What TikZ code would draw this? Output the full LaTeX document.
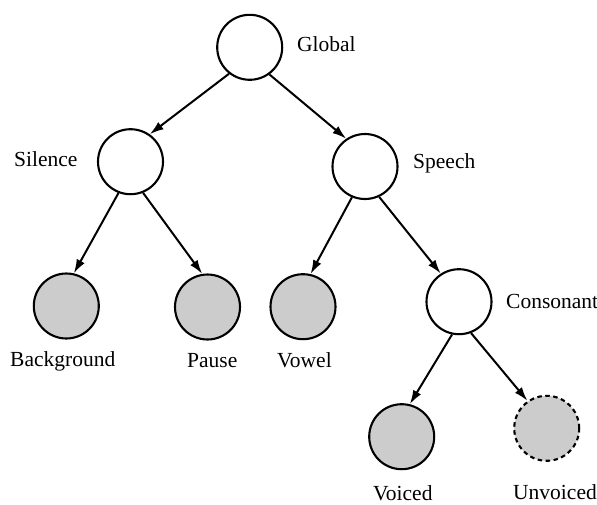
\documentclass[tikz,border=0pt]{standalone}
\usepackage{fontspec}
\setmainfont{Liberation Serif}
\usetikzlibrary{arrows.meta}
\begin{document}
\begin{tikzpicture}[x=1pt,y=-1pt,
  st/.style={circle,draw,line width=2.1pt,minimum size=65pt,inner sep=0pt,fill=white},
  leaf/.style={st,fill=black!20},
  lbl/.style={anchor=base west,inner sep=0pt,font=\fontsize{21.5}{24}\selectfont},
  edge/.style={line width=2pt,-{Latex[length=14pt,width=9pt]}}]
\useasboundingbox (0,0) rectangle (597,504);
\node[st] (glob) at (249.7,47.3) {};
\node[st] (sil) at (130.5,161.7) {};
\node[st] (spe) at (365,166.5) {};
\node[leaf] (bg) at (66.3,306) {};
\node[leaf] (pau) at (207.5,307) {};
\node[leaf] (vow) at (303,306.7) {};
\node[st] (con) at (459,301.7) {};
\node[leaf] (voi) at (401.7,436.7) {};
\node[leaf,dash pattern=on 4.5pt off 3.5pt] (unv) at (546.7,428.3) {};
\node[lbl] (tglob) at (297,51.5) {Global};
\node[lbl] (tsil) at (14,166) {Silence};
\node[lbl] (tspe) at (413,168) {Speech};
\node[lbl] (tbg) at (10,366) {Background};
\node[lbl] (tpau) at (187,367) {Pause};
\node[lbl] (tvow) at (277,367) {Vowel};
\node[lbl] (tcon) at (506,308) {Consonant};
\node[lbl] (tvoi) at (373,500) {Voiced};
\node[lbl] (tunv) at (513,499) {Unvoiced};
\draw[edge] (glob.232) -- (sil.55);
\draw[edge] (glob.306) -- (spe.124);
\draw[edge] (sil.249) -- (bg.77);
\draw[edge] (sil.292) -- (pau.99);
\draw[edge] (spe.247) -- (vow.77);
\draw[edge] (spe.295) -- (con.123);
\draw[edge] (con.258) -- (voi.76);
\draw[edge] (con.291) -- (unv.125);
\end{tikzpicture}
\end{document}
